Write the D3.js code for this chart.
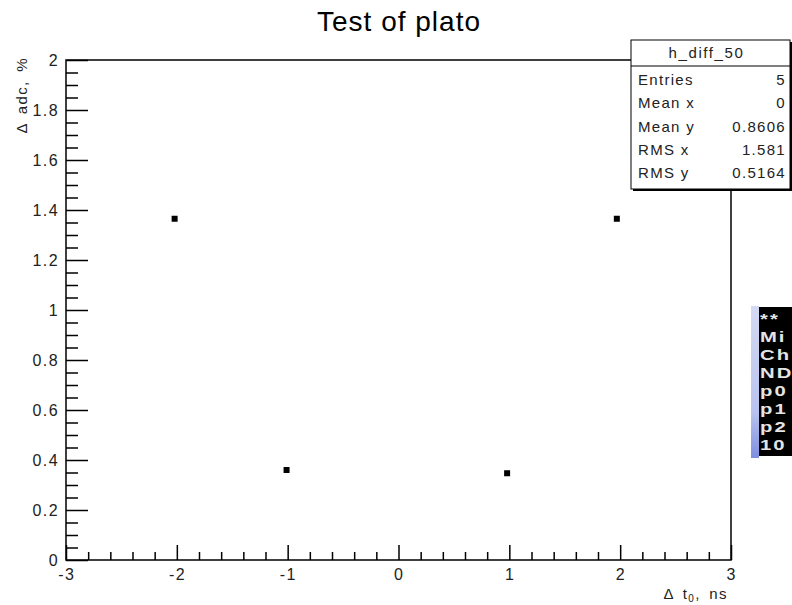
<!DOCTYPE html>
<html>
<head>
<meta charset="utf-8">
<script src="https://cdn.jsdelivr.net/npm/d3@7"></script>
<style>
  html, body { margin: 0; padding: 0; background: #fff; }
  svg { display: block; }
  text { font-family: "Liberation Sans", Arial, Helvetica, sans-serif; }
</style>
</head>
<body>
<svg id="chart" width="792" height="605"></svg>
<script>
// Measured points: time shift (ns) vs relative amplitude change (%)
const dtValues  = [-2.02, -1.01, 0.98, 1.97];
const adcValues = [1.365, 0.36, 0.347, 1.365];

// Axis ticks
const xTickValues = [-3, -2, -1, 0, 1, 2, 3];
const xTickLabels = ["-3", "-2", "-1", "0", "1", "2", "3"];
const yTickValues = [0, 0.2, 0.4, 0.6, 0.8, 1, 1.2, 1.4, 1.6, 1.8, 2];
const yTickLabels = ["0", "0.2", "0.4", "0.6", "0.8", "1", "1.2", "1.4", "1.6", "1.8", "2"];

// Statistics box
const statTitle  = "h_diff_50";
const statNames  = ["Entries", "Mean x", "Mean y", "RMS x", "RMS y"];
const statValues = ["5", "0", "0.8606", "1.581", "0.5164"];

// Visible start of the console panel lines
const consoleLines = ["**", "Mi", "Ch", "ND", "p0", "p1", "p2", "10"];

const svg = d3.select("#chart");
const frame = { left: 66, right: 731, top: 60, bottom: 560 };

const x = d3.scaleLinear().domain([-3, 3]).range([frame.left, frame.right]);
const y = d3.scaleLinear().domain([0, 2]).range([frame.bottom, frame.top]);

// Title
svg.append("text")
  .attr("x", 399).attr("y", 31)
  .attr("text-anchor", "middle")
  .attr("font-size", 28)
  .attr("letter-spacing", 1)
  .attr("fill", "#000")
  .text("Test of plato");

// Frame
svg.append("rect")
  .attr("x", frame.left).attr("y", frame.top)
  .attr("width", frame.right - frame.left)
  .attr("height", frame.bottom - frame.top)
  .attr("fill", "none").attr("stroke", "#000").attr("stroke-width", 1.5);

// X axis: major ticks at integers, minor every 0.2
const xAxis = d3.axisTop(x).tickValues(xTickValues).tickSize(15).tickFormat("");
const xMinor = d3.axisTop(x)
  .tickValues(d3.range(-30, 31, 2).map(v => v / 10).filter(v => !xTickValues.includes(v)))
  .tickSize(8).tickFormat("");
[xAxis, xMinor].forEach(ax => {
  const g = svg.append("g").attr("transform", `translate(0,${frame.bottom})`).call(ax);
  g.select(".domain").remove();
  g.selectAll("line").attr("stroke", "#000").attr("stroke-width", 1.5);
});
svg.append("g").selectAll("text").data(xTickValues).join("text")
  .attr("x", d => x(d) + 0.7).attr("y", frame.bottom + 20)
  .attr("text-anchor", "middle").attr("font-size", 16)
  .attr("letter-spacing", 1.4).attr("fill", "#222")
  .text((d, i) => xTickLabels[i]);

// Y axis: major ticks every 0.2, minor every 0.05
const yAxis = d3.axisRight(y).tickValues(yTickValues).tickSize(22).tickFormat("");
const yMinor = d3.axisRight(y)
  .tickValues(d3.range(0, 41).map(v => v * 0.05).filter((v, i) => i % 4 !== 0))
  .tickSize(12).tickFormat("");
[yAxis, yMinor].forEach(ax => {
  const g = svg.append("g").attr("transform", `translate(${frame.left},0)`).call(ax);
  g.select(".domain").remove();
  g.selectAll("line").attr("stroke", "#000").attr("stroke-width", 1.5);
});
svg.append("g").selectAll("text").data(yTickValues).join("text")
  .attr("x", frame.left - 7).attr("y", d => y(d) + 6)
  .attr("text-anchor", "end").attr("font-size", 16)
  .attr("letter-spacing", 1.4).attr("fill", "#222")
  .text((d, i) => yTickLabels[i]);

// Axis titles
svg.append("text")
  .attr("transform", "translate(27,57) rotate(-90)")
  .attr("text-anchor", "end").attr("font-size", 15)
  .attr("letter-spacing", 1.4).attr("word-spacing", 3)
  .attr("fill", "#222")
  .text("\u0394 adc, %");

const xt = svg.append("text")
  .attr("x", 728).attr("y", 599)
  .attr("text-anchor", "end").attr("font-size", 15)
  .attr("letter-spacing", 1.4).attr("word-spacing", 3)
  .attr("fill", "#222");
xt.append("tspan").text("\u0394 t");
xt.append("tspan").attr("font-size", 10).attr("dy", 3).text("0");
xt.append("tspan").attr("dy", -3).text(", ns");

// Points
svg.append("g").selectAll("rect").data(dtValues).join("rect")
  .attr("x", d => x(d) - 3)
  .attr("y", (d, i) => y(adcValues[i]) - 3)
  .attr("width", 6).attr("height", 6)
  .attr("fill", "#000");

// Statistics box
const sb = { x: 631, y: 40, w: 159, h: 149 };
const stats = svg.append("g");
stats.append("rect")
  .attr("x", sb.x + 2).attr("y", sb.y + 2).attr("width", sb.w).attr("height", sb.h)
  .attr("fill", "#000");
stats.append("rect")
  .attr("x", sb.x).attr("y", sb.y).attr("width", sb.w).attr("height", sb.h)
  .attr("fill", "#fff").attr("stroke", "#000").attr("stroke-width", 1);
stats.append("line")
  .attr("x1", sb.x).attr("x2", sb.x + sb.w)
  .attr("y1", sb.y + 26).attr("y2", sb.y + 26)
  .attr("stroke", "#000").attr("stroke-width", 1);
stats.append("text")
  .attr("x", sb.x + sb.w / 2 - 4).attr("y", sb.y + 18)
  .attr("text-anchor", "middle").attr("font-size", 15)
  .attr("letter-spacing", 1.6).attr("fill", "#222")
  .text(statTitle);
const rowY = d3.scaleLinear().domain([0, statNames.length - 1]).range([sb.y + 45, sb.y + 138]);
stats.selectAll("text.name").data(statNames).join("text")
  .attr("class", "name")
  .attr("x", sb.x + 7).attr("y", (d, i) => rowY(i))
  .attr("font-size", 15).attr("letter-spacing", 1.3).attr("fill", "#222")
  .text(d => d);
stats.selectAll("text.val").data(statValues).join("text")
  .attr("class", "val")
  .attr("x", sb.x + sb.w - 4).attr("y", (d, i) => rowY(i))
  .attr("text-anchor", "end").attr("font-size", 15)
  .attr("letter-spacing", 1.3).attr("fill", "#222")
  .text(d => d);

// Console panel at the right edge
const defs = svg.append("defs");
const grad = defs.append("linearGradient").attr("id", "edge").attr("x1", 0).attr("y1", 0).attr("x2", 0).attr("y2", 1);
grad.append("stop").attr("offset", "0%").attr("stop-color", "#d4daf2");
grad.append("stop").attr("offset", "70%").attr("stop-color", "#b8c2ee");
grad.append("stop").attr("offset", "100%").attr("stop-color", "#7e8fe0");
svg.append("rect")
  .attr("x", 751).attr("y", 306).attr("width", 8).attr("height", 152)
  .attr("fill", "url(#edge)");
svg.append("rect")
  .attr("x", 759).attr("y", 307).attr("width", 40).attr("height", 149)
  .attr("fill", "#000");
const lineY = d3.scaleLinear().domain([0, consoleLines.length - 1]).range([324, 450]);
svg.append("g").selectAll("text").data(consoleLines).join("text")
  .attr("transform", (d, i) => `translate(760,${lineY(i)}) scale(1.35,1)`)
  .attr("font-family", "'Liberation Mono', 'DejaVu Sans Mono', monospace")
  .attr("font-weight", "bold")
  .attr("font-size", 15).attr("letter-spacing", 1.5).attr("fill", "#e4e4e4")
  .text(d => d);
</script>
</body>
</html>
